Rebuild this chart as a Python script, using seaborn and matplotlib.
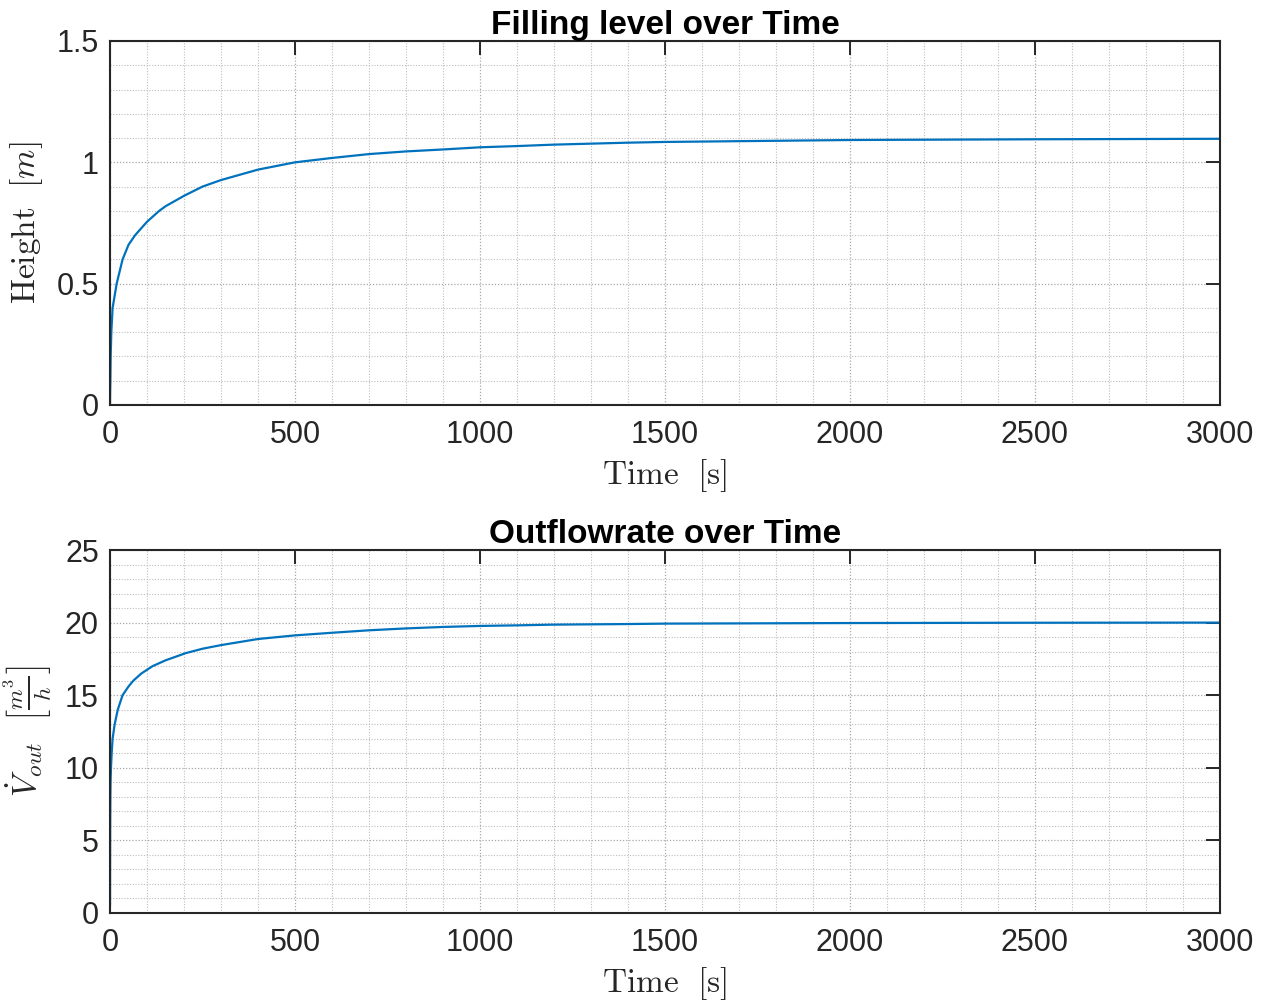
import matplotlib
matplotlib.use("Agg")
import matplotlib.pyplot as plt
import seaborn as sns
import pandas as pd
from matplotlib.ticker import MultipleLocator, FuncFormatter

# ---- data ----
time_h = [0, 0.5, 1, 1.8, 3.6, 7, 18, 34, 50, 68, 100, 133, 150, 200, 250, 300,
          400, 500, 600, 700, 800, 900, 1000, 1100, 1200, 1300, 1400, 1500,
          2000, 2500, 3000]
height_m = [0.0, 0.06, 0.10, 0.20, 0.30, 0.40, 0.50, 0.60, 0.66, 0.70, 0.755,
            0.80, 0.819, 0.862, 0.90, 0.927, 0.970, 1.0, 1.018, 1.034, 1.045,
            1.053, 1.062, 1.067, 1.073, 1.077, 1.081, 1.084, 1.092, 1.095, 1.097]

time_q = [0, 0.5, 1, 1.5, 2.7, 4.5, 7, 12.6, 21, 34, 50, 63, 85, 115, 150, 205,
          250, 300, 400, 500, 600, 700, 800, 900, 1000, 1100, 1200, 1300, 1400,
          1500, 2000, 2500, 3000]
outflow_m3h = [0.5, 6.0, 8.0, 9.0, 10.0, 11.0, 12.0, 13.0, 14.0, 15.0, 15.6,
               16.0, 16.5, 17.0, 17.4, 17.9, 18.2, 18.45, 18.87, 19.12, 19.3,
               19.47, 19.6, 19.7, 19.77, 19.81, 19.86, 19.88, 19.9, 19.93,
               19.97, 19.99, 20.0]

titles = ["Filling level over Time", "Outflowrate over Time"]
ylabels = [r"$\mathrm{Height}\ \ [m]$", r"$\dot{V}_{out}\ \ \left[\frac{m^3}{h}\right]$"]
xlabel = r"$\mathrm{Time}\ \ [\mathrm{s}]$"

df_h = pd.DataFrame({"t": time_h, "v": height_m})
df_q = pd.DataFrame({"t": time_q, "v": outflow_m3h})

sns.set_style("white")
plt.rcParams["font.family"] = ["Liberation Sans", "DejaVu Sans"]
plt.rcParams["mathtext.fontset"] = "cm"

fig = plt.figure(figsize=(12.61, 10.01), dpi=100)
ax1 = fig.add_axes([110/1261, 1-405/1001, 1110/1261, 364/1001])
ax2 = fig.add_axes([110/1261, 1-913/1001, 1110/1261, 363/1001])

line_color = "#0072BD"
edge = "#262626"

specs = [
    (ax1, df_h, (0, 1.5), 0.5, 0.1),
    (ax2, df_q, (0, 25), 5, 1),
]
for i, (ax, d, ylim, ymaj, ymin) in enumerate(specs):
    sns.lineplot(data=d, x="t", y="v", ax=ax, color=line_color, linewidth=1.6)
    ax.set_xlim(0, 3000)
    ax.set_ylim(*ylim)
    ax.xaxis.set_major_locator(MultipleLocator(500))
    ax.xaxis.set_minor_locator(MultipleLocator(100))
    ax.yaxis.set_major_locator(MultipleLocator(ymaj))
    ax.yaxis.set_minor_locator(MultipleLocator(ymin))
    ax.yaxis.set_major_formatter(FuncFormatter(lambda v, p: f"{v:g}"))
    ax.grid(True, which="major", linestyle=(0, (1, 1.5)), color="#a8a8a8", linewidth=0.9)
    ax.grid(True, which="minor", linestyle=(0, (1, 1.5)), color="#bdbdbd", linewidth=0.8)
    ax.tick_params(which="major", direction="in", length=10, width=1.4, color=edge,
                   top=True, right=True, labelsize=22, labelcolor=edge)
    ax.tick_params(axis="x", which="major", pad=11)
    ax.tick_params(axis="y", which="major", pad=8)
    ax.tick_params(which="minor", length=0, top=True, right=True)
    for s in ax.spines.values():
        s.set_visible(True)
        s.set_color(edge)
        s.set_linewidth(1.5)
    ax.set_title(titles[i], fontsize=24, fontweight="bold", color="black", pad=5)
    ax.set_xlabel(xlabel, fontsize=24, color=edge, labelpad=5)
    ax.set_ylabel(ylabels[i], fontsize=24, color=edge, labelpad=8)
    ax.set_axisbelow(True)

fig.savefig("out.png", dpi=100, facecolor="white")
